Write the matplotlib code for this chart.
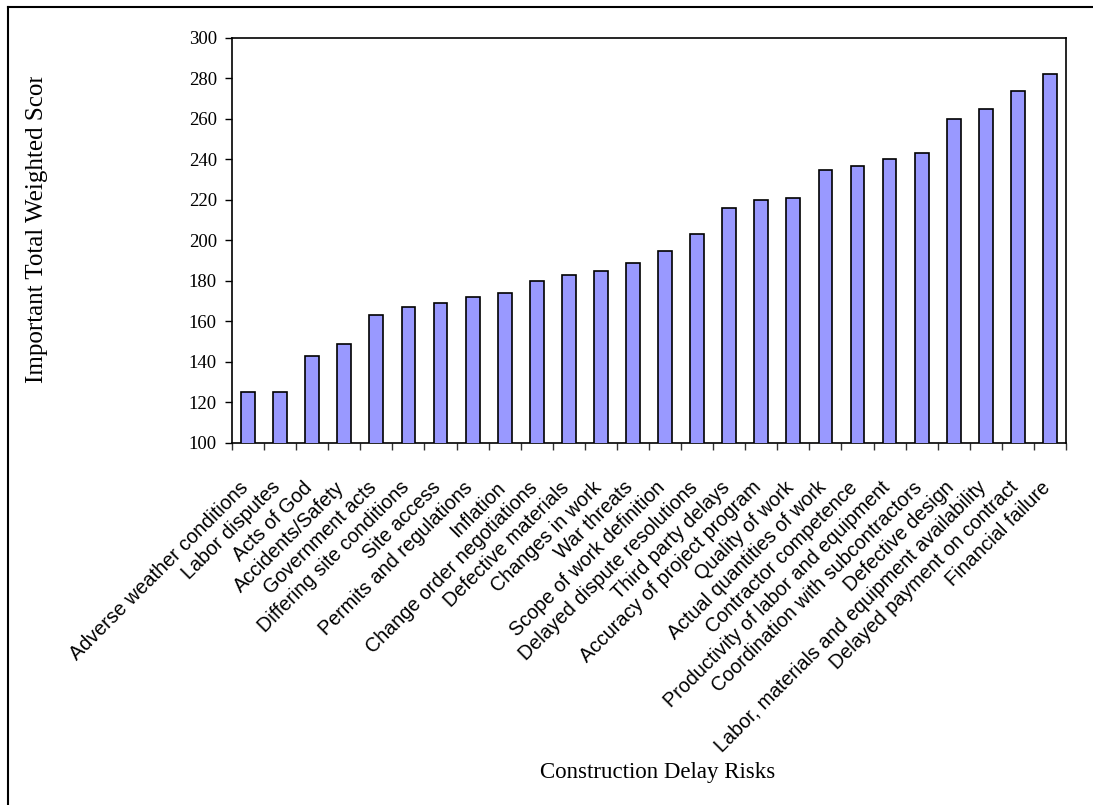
import numpy as np
import matplotlib
matplotlib.use("Agg")
import matplotlib.pyplot as plt
from matplotlib.lines import Line2D
from matplotlib.transforms import Bbox, TransformedBbox

# risques de retard, du plus faible au plus fort
risques = ["Adverse weather conditions", "Labor disputes", "Acts of God",
           "Accidents/Safety", "Government acts", "Differing site conditions",
           "Site access", "Permits and regulations", "Inflation",
           "Change order negotiations", "Defective materials", "Changes in work",
           "War threats", "Scope of work definition", "Delayed dispute resolutions",
           "Third party delays", "Accuracy of project program", "Quality of work",
           "Actual quantities of work", "Contractor competence",
           "Productivity of labor and equipment", "Coordination with subcontractors",
           "Defective design", "Labor, materials and equipment availability",
           "Delayed payment on contract", "Financial failure"]
scores = [125, 125, 143, 149, 163, 167, 169, 172, 174, 180, 183, 185, 189,
          195, 203, 216, 220, 221, 235, 237, 240, 243, 260, 265, 274, 282]
yticks = [100, 120, 140, 160, 180, 200, 220, 240, 260, 280, 300]

serif = "Liberation Serif"
sans = "Liberation Sans"

fig = plt.figure(figsize=(10.93, 8.05), dpi=100)
ax = fig.add_axes([0.2123, 0.4497, 0.763, 0.5031])

x = np.arange(len(risques))
ax.bar(x, scores, width=0.43, bottom=0, color="#9999FF", edgecolor="black", linewidth=1.2, zorder=3)

ax.set_xlim(-0.5, len(risques) - 0.5)
ax.set_ylim(yticks[0], yticks[-1])
ax.set_yticks(yticks)
ax.set_yticklabels([str(v) for v in yticks], fontfamily=serif, fontsize=13.5)
ax.tick_params(axis="y", direction="out", length=5, width=1, pad=6)

# ticks entre les categories, etiquettes au centre des barres
ax.set_xticks(np.arange(-0.5, len(risques), 1))
ax.set_xticklabels([])
ax.tick_params(axis="x", which="major", direction="out", length=5, width=1, color="#333333")
ax.set_xticks(x - 0.08, minor=True)
ax.set_xticklabels(risques, minor=True, rotation=45, ha="right", va="center",
                   rotation_mode="anchor", fontfamily=sans, fontsize=14.2)
ax.tick_params(axis="x", which="minor", length=0, pad=30)

for s in ax.spines.values():
    s.set_linewidth(1.2)
    s.set_color("black")

fig.text(658 / 1093, 1 - 778 / 805, "Construction Delay Risks", ha="center", va="baseline",
         fontfamily=serif, fontsize=16.5)

ylab = fig.text(37 / 1093, 1 - 383 / 805, "Important Total Weighted Score", rotation=90,
                ha="center", va="bottom", fontfamily=serif, fontsize=18)
ylab.set_clip_box(TransformedBbox(Bbox([[0, 0], [1, 1 - 77 / 805]]), fig.transFigure))
ylab.set_clip_on(True)

# cadre exterieur (gauche et haut seulement)
fig.add_artist(Line2D([8 / 1093, 8 / 1093], [0, 1 - 7 / 805], transform=fig.transFigure,
                      color="black", linewidth=1.5))
fig.add_artist(Line2D([8 / 1093, 1], [1 - 7 / 805, 1 - 7 / 805], transform=fig.transFigure,
                      color="black", linewidth=1.5))

fig.savefig("out.png", dpi=100)
